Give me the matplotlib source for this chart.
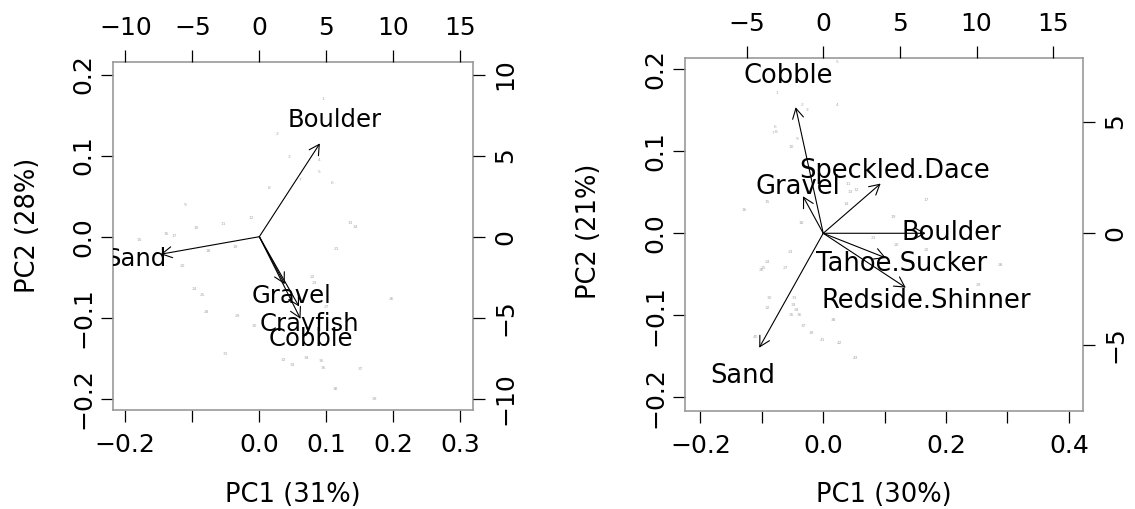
import numpy as np
import matplotlib.pyplot as plt

plt.rcParams['font.family'] = ['DejaVu Sans']

# --- habitat PCA: variable loadings (top/right scale) ---
hab_vars = ['Boulder', 'Sand', 'Gravel', 'Crayfish', 'Cobble']
hab_load_x = [5.65, -9.2, 2.37, 3.71, 3.84]
hab_load_y = [7.19, -1.35, -3.66, -5.38, -6.33]

# --- habitat PCA: site scores (bottom/left scale) ---
hab_pc1 = [0.0946, 0.026, 0.0439, 0.0891, 0.0891, 0.108, 0.0607, 0.0149,
           -0.1113, -0.0934, -0.0531, -0.0113, 0.1354, 0.1428, -0.1796,
           -0.1382, -0.1273, -0.0755, -0.0352, -0.1154, 0.1155, 0.0797,
           0.0821, -0.0975, -0.0845, 0.1976, 0.1006, -0.0796, -0.0328,
           -0.0075, -0.0512, 0.0364, 0.0493, 0.0697, 0.0925, 0.0955,
           0.1513, 0.113, 0.1712]
hab_pc2 = [0.1698, 0.1263, 0.0979, 0.0946, 0.0794, 0.0658, 0.0699, 0.0597,
           0.0391, 0.0111, 0.0157, 0.0227, 0.0165, 0.0116, -0.0044,
           0.003, 0.0009, -0.0176, -0.0131, -0.0365, -0.0155, -0.0493,
           -0.0575, -0.0649, -0.0715, -0.0764, -0.0863, -0.0932, -0.0978,
           -0.1101, -0.145, -0.1517, -0.1578, -0.1496, -0.1536, -0.1623,
           -0.1631, -0.1882, -0.2001]

# --- fish + habitat PCA: variable loadings ---
fish_vars = ['Cobble', 'Speckled.Dace', 'Gravel', 'Boulder',
             'Tahoe.Sucker', 'Redside.Shinner', 'Sand']
fish_load_x = [-2.25, 4.68, -1.65, 8.35, 5.11, 6.73, -5.22]
fish_load_y = [7.05, 2.78, 2.07, 0.0, -1.38, -3.04, -6.4]

# --- fish + habitat PCA: site scores ---
fish_pc1 = [-0.0759, -0.0352, -0.027, 0.0228, 0.0218, -0.0787, -0.0814,
            -0.077, -0.0433, -0.0515, 0.0407, 0.0533, 0.0435, 0.0381,
            -0.0906, -0.1292, 0.1673, -0.0363, 0.114, 0.1195, 0.0814,
            0.1684, -0.0542, -0.0912, -0.0977, -0.1003, -0.0624, 0.2878,
            0.2524, -0.0868, -0.0461, -0.0906, -0.0489, -0.0433, -0.0515,
            -0.0379, -0.0326, 0.0163, -0.0189, -0.1096, -0.001, 0.0261,
            0.0533]
fish_pc2 = [0.1717, 0.1567, 0.1505, 0.1567, 0.2095, 0.1302, 0.1228, 0.1241,
            0.1148, 0.1057, 0.0602, 0.0529, 0.0508, 0.0358, 0.0386, 0.0284,
            0.0407, 0.0122, 0.0203, -0.0143, -0.0061, -0.0204, -0.0225,
            -0.0354, -0.0427, -0.0448, -0.0427, -0.0387, -0.0631, -0.0794,
            -0.0794, -0.0916, -0.0875, -0.0937, -0.0998, -0.0998, -0.1132,
            -0.1059, -0.1221, -0.1262, -0.1303, -0.1336, -0.1526]

TICK = dict(length=8.6, width=0.9, color='black', labelsize=18)


def num(v):
    return ('%d' % v).replace('-', '\u2212')


def biplot(fig, rect, pc1, pc2, names, lx, ly, lims, ratio, xticks, xlabs,
           yticks, topticks, rticks, xlabel, ylabel, label_size):
    ax = fig.add_axes(rect)
    ax.set_xlim(lims[0], lims[1])
    ax.set_ylim(lims[2], lims[3])
    for s in ax.spines.values():
        s.set_color('#999999')
        s.set_linewidth(1.2)

    # sample numbers in light grey
    for i, (x, y) in enumerate(zip(pc1, pc2)):
        ax.text(x, y, str(i + 1), fontsize=3.2, color='#aaaaaa',
                ha='center', va='center')

    ax.set_xticks(xticks)
    ax.set_xticklabels(xlabs)
    ax.set_yticks(yticks)
    ax.set_yticklabels([('%.1f' % v).replace('-', '\u2212') for v in yticks],
                       rotation=90, va='center')
    ax.tick_params(axis='x', pad=8, **TICK)
    ax.tick_params(axis='y', pad=4, **TICK)
    ax.set_xlabel(xlabel, fontsize=18.5, va='center')
    ax.set_ylabel(ylabel, fontsize=18.5, va='center')

    # loadings on a second set of axes (top / right)
    ax2 = fig.add_axes(rect, frameon=False)
    ax2.set_xlim(lims[0] * ratio[0], lims[1] * ratio[0])
    ax2.set_ylim(lims[2] * ratio[1], lims[3] * ratio[1])
    ax2.xaxis.tick_top()
    ax2.yaxis.tick_right()
    ax2.set_xticks(topticks)
    ax2.set_xticklabels([num(v) for v in topticks])
    ax2.set_yticks(rticks)
    ax2.set_yticklabels([num(v) for v in rticks], rotation=90, va='center')
    ax2.tick_params(axis='x', pad=7, **TICK)
    ax2.tick_params(axis='y', pad=6, **TICK)

    for name, x, y in zip(names, lx, ly):
        ax2.text(x, y, name, fontsize=label_size, ha='center', va='center',
                 clip_on=True)
    for x, y in zip(lx, ly):
        ax2.annotate('', xy=(0.8 * x, 0.8 * y), xytext=(0, 0),
                     arrowprops=dict(arrowstyle='->,head_length=0.4,head_width=0.22',
                                     lw=0.8, color='black', shrinkA=0,
                                     shrinkB=0, mutation_scale=18))
    return ax, ax2


fig = plt.figure(figsize=(11.35, 5.09), dpi=100)

a1, _ = biplot(fig, [0.0993, 0.1945, 0.3172, 0.6843], hab_pc1, hab_pc2,
               hab_vars, hab_load_x, hab_load_y,
               (-0.2188, 0.3185, -0.2137, 0.2158), (50, 50),
               [-0.2, -0.1, 0.0, 0.1, 0.2, 0.3],
               ['\u22120.2', '', '0.0', '0.1', '0.2', '0.3'],
               [-0.2, -0.1, 0.0, 0.1, 0.2],
               [-10, -5, 0, 5, 10, 15], [-10, -5, 0, 5, 10],
               'PC1 (31%)', 'PC2 (28%)', 17.5)

a2, _ = biplot(fig, [0.6035, 0.1931, 0.3509, 0.693], fish_pc1, fish_pc2,
               fish_vars, fish_load_x, fish_load_y,
               (-0.2252, 0.4235, -0.2166, 0.214), (40.05, 36.65),
               [-0.2, -0.1, 0.0, 0.1, 0.2, 0.3, 0.4],
               ['\u22120.2', '', '0.0', '', '0.2', '', '0.4'],
               [-0.2, -0.1, 0.0, 0.1, 0.2],
               [-5, 0, 5, 10, 15], [-5, 0, 5],
               'PC1 (30%)', 'PC2 (21%)', 18.5)

a1.xaxis.set_label_coords(0.5, -0.245)
a2.xaxis.set_label_coords(0.5, -0.24)
a1.yaxis.set_label_coords(-0.235, 0.53)
a2.yaxis.set_label_coords(-0.24, 0.51)

fig.savefig('out.png', dpi=100)
